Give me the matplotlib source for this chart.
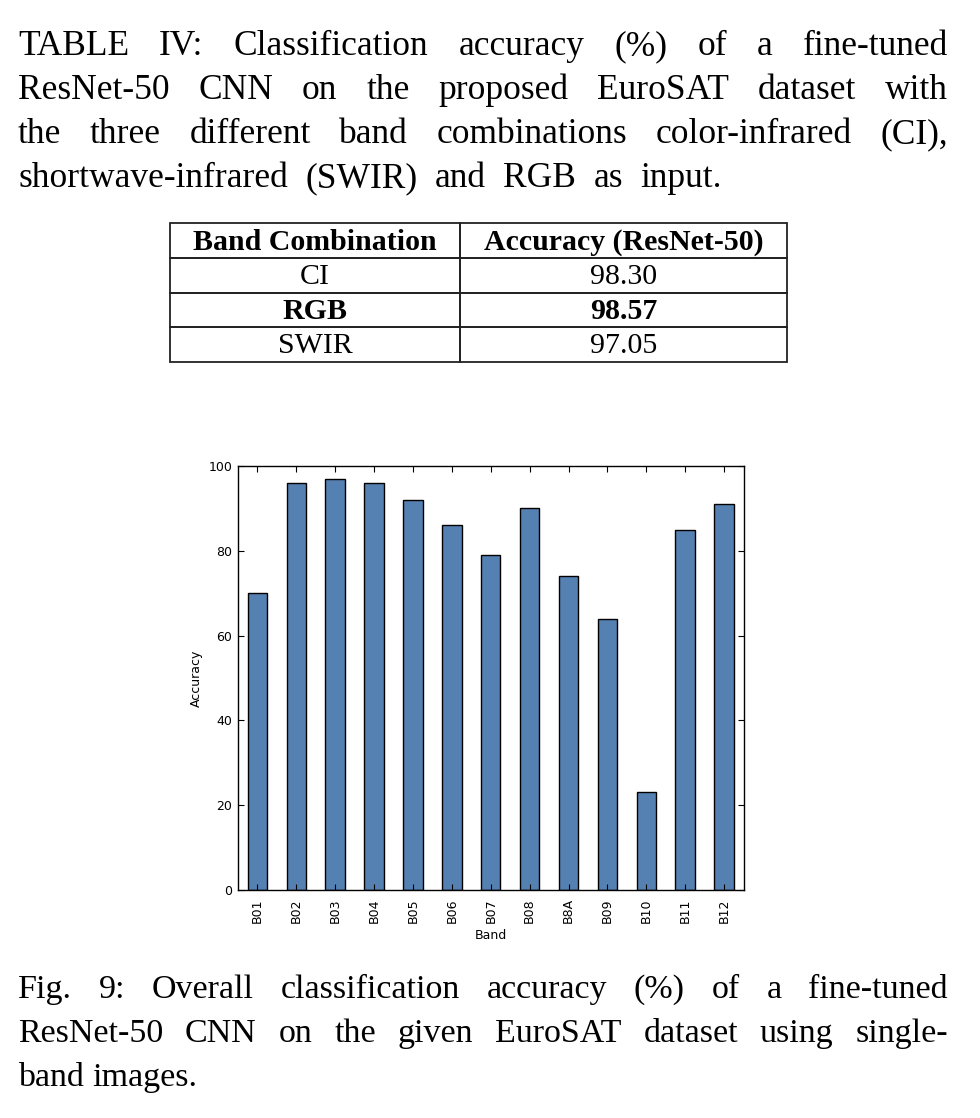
import numpy as np
import matplotlib.pyplot as plt
from matplotlib.patches import Rectangle

# Datos de la figura
bandas = ["B01", "B02", "B03", "B04", "B05", "B06", "B07", "B08", "B8A", "B09", "B10", "B11", "B12"]
precision = [70, 96, 97, 96, 92, 86, 79, 90, 74, 64, 23, 85, 91]

# Datos de la tabla
combinaciones = ["CI", "RGB", "SWIR"]
precision_tabla = ["98.30", "98.57", "97.05"]
fila_destacada = "RGB"

W, H = 980, 1118
fig = plt.figure(figsize=(W / 100, H / 100), dpi=100)
renderer = fig.canvas.get_renderer()
serif = "Liberation Serif"


def ancho(palabra, size):
    t = fig.text(0, 0, palabra, fontsize=size, family=serif)
    w = t.get_window_extent(renderer).width
    t.remove()
    return w


def escribir_justificado(lineas, x0, x1, x_ultima, y_base, interlinea, size):
    espacio = ancho("a a", size) - 2 * ancho("a", size)
    for k, linea in enumerate(lineas):
        palabras = linea.split(" ")
        anchos = [ancho(p, size) for p in palabras]
        y = y_base + k * interlinea
        if k == len(lineas) - 1 and x_ultima is None:
            gap = espacio
        else:
            fin = x_ultima if k == len(lineas) - 1 else x1
            gap = (fin - x0 - sum(anchos)) / max(len(palabras) - 1, 1)
        x = x0
        for p, w in zip(palabras, anchos):
            fig.text(x / W, 1 - y / H, p, fontsize=size, family=serif,
                     ha="left", va="baseline")
            x += w + gap


# Textos partidos en lineas como en el original
lineas_tabla = [
    "TABLE IV: Classification accuracy (%) of a fine-tuned",
    "ResNet-50 CNN on the proposed EuroSAT dataset with",
    "the three different band combinations color-infrared (CI),",
    "shortwave-infrared (SWIR) and RGB as input.",
]
lineas_fig = [
    "Fig. 9: Overall classification accuracy (%) of a fine-tuned",
    "ResNet-50 CNN on the given EuroSAT dataset using single-",
    "band images.",
]
escribir_justificado(lineas_tabla, 18, 948, 722, 55, 44, 25.5)
escribir_justificado(lineas_fig, 18, 948, None, 998, 44, 24.5)

# Tabla
ax_t = fig.add_axes([170 / W, 1 - 362 / H, 617 / W, 139 / H])
ax_t.set_xlim(0, 617)
ax_t.set_ylim(len(combinaciones) + 1, 0)
ax_t.axis("off")
corte = 290
filas = [("Band Combination", "Accuracy (ResNet-50)", True)]
filas += [(c, v, c == fila_destacada) for c, v in zip(combinaciones, precision_tabla)]
for i, (c, v, negrita) in enumerate(filas):
    peso = "bold" if negrita else "normal"
    for x, y0, w, txt in [(0, i, corte, c), (corte, i, 617 - corte, v)]:
        ax_t.add_patch(Rectangle((x, y0), w, 1, fill=False, edgecolor="#222222",
                                 linewidth=1.3, clip_on=False))
        ax_t.text(x + w / 2, y0 + 0.55, txt, ha="center", va="center",
                  fontsize=21.5, family=serif, fontweight=peso)

# Grafico de barras
ax = fig.add_axes([238 / W, 1 - 890 / H, 505.5 / W, 424 / H])
pos = np.arange(len(bandas))
ax.bar(pos, precision, width=0.5, color="#5580b2", edgecolor="black", linewidth=1.0)
ax.set_xlim(-0.5, len(bandas) - 0.5)
ax.set_ylim(0, 100)
ax.set_xticks(pos)
ax.set_xticklabels(bandas, rotation=90)
ax.set_yticks([0, 20, 40, 60, 80, 100])
ax.tick_params(direction="in", length=4, width=0.8, top=True, right=True,
               labelsize=9, pad=4)
ax.tick_params(axis="x", pad=6)
for s in ax.spines.values():
    s.set_linewidth(1.0)
ax.set_xlabel("Band", fontsize=9, labelpad=4)
ax.set_ylabel("Accuracy", fontsize=9, labelpad=4)

fig.savefig("out.png", dpi=100)
